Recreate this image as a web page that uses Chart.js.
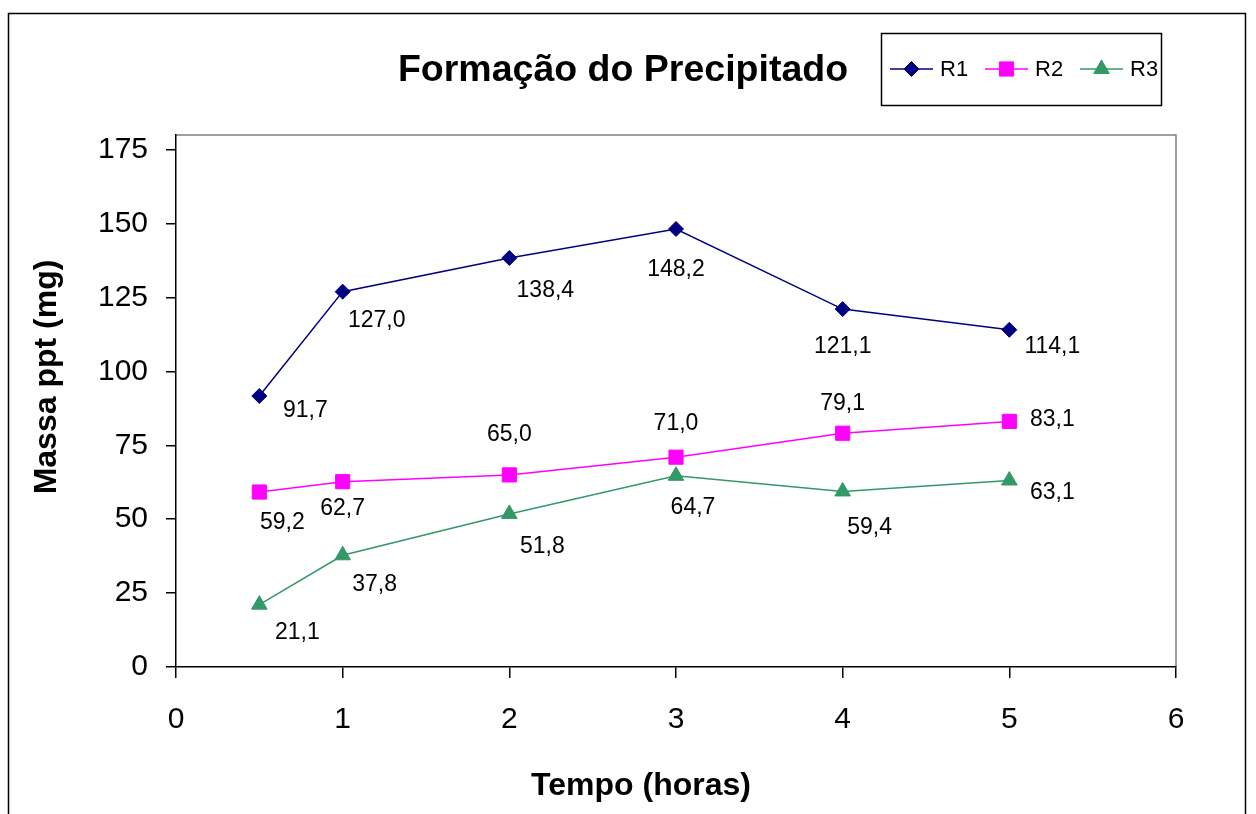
<!DOCTYPE html>
<html>
<head>
<meta charset="utf-8">
<title>Formação do Precipitado</title>
<script src="https://cdn.jsdelivr.net/npm/chart.js@4/dist/chart.umd.min.js"></script>
<style>
  html, body { margin: 0; padding: 0; background: #fff; }
  #wrap { width: 1256px; height: 814px; position: relative; }
</style>
</head>
<body>
<div id="wrap"><canvas id="c" width="1256" height="814"></canvas></div>
<script>
// Sampling times (hours) and precipitate mass (mg) for each reactor
const tempo = [0.5, 1, 2, 3, 4, 5];
const r1 = [91.7, 127.0, 138.4, 148.2, 121.1, 114.1];
const r2 = [59.2, 62.7, 65.0, 71.0, 79.1, 83.1];
const r3 = [21.1, 37.8, 51.8, 64.7, 59.4, 63.1];
const seriesNames = ['R1', 'R2', 'R3'];
const yTickValues = [0, 25, 50, 75, 100, 125, 150, 175];
const xTickValues = [0, 1, 2, 3, 4, 5, 6];

// Where each value label sits relative to its marker (px)
const labelShift = [
  [[46, 15], [34, 29], [36, 33], [0, 41], [0, 38], [43, 17]],
  [[23, 31], [0, 27], [0, -40], [0, -33], [0, -30], [43, -2]],
  [[38, 28], [32, 29], [33, 33], [17, 32], [27, 36], [43, 12]]
];

const FONT = '"Liberation Sans", Arial, Helvetica, sans-serif';
const colors = ['#000080', '#FF00FF', '#339966'];
const styles = ['rectRot', 'rect', 'triangle'];
const radii = [7.5, 10, 9];

const toPoints = arr => arr.map((v, i) => ({ x: tempo[i], y: v }));
const fmt = v => v.toFixed(1).replace('.', ',');

const datasets = [r1, r2, r3].map((arr, k) => ({
  label: seriesNames[k],
  data: toPoints(arr),
  borderColor: colors[k],
  backgroundColor: colors[k],
  borderWidth: 1.5,
  pointStyle: styles[k],
  pointRadius: radii[k],
  pointHoverRadius: radii[k],
  pointBorderWidth: 1,
  pointBackgroundColor: colors[k],
  pointBorderColor: colors[k],
  tension: 0,
  fill: false
}));

// Frame around the whole figure and gray edges of the plot area
const framePlugin = {
  id: 'frame',
  beforeDraw(chart) {
    const ctx = chart.ctx;
    const a = chart.chartArea;
    ctx.save();
    ctx.fillStyle = '#fff';
    ctx.fillRect(0, 0, chart.width, chart.height);
    ctx.strokeStyle = '#000';
    ctx.lineWidth = 1.5;
    ctx.strokeRect(8.5, 13.5, 1237, 900);
    ctx.strokeStyle = '#808080';
    ctx.lineWidth = 1.5;
    ctx.beginPath();
    ctx.moveTo(a.left, a.top);
    ctx.lineTo(a.right, a.top);
    ctx.lineTo(a.right, a.bottom);
    ctx.stroke();
    ctx.restore();
  }
};

// Title, axis titles, legend box and value labels
const decorPlugin = {
  id: 'decor',
  afterDatasetsDraw(chart) {
    const ctx = chart.ctx;
    ctx.save();
    // value labels
    ctx.fillStyle = '#000';
    ctx.font = '23px ' + FONT;
    ctx.textAlign = 'center';
    ctx.textBaseline = 'middle';
    chart.data.datasets.forEach((ds, k) => {
      const meta = chart.getDatasetMeta(k);
      meta.data.forEach((pt, i) => {
        const [dx, dy] = labelShift[k][i];
        ctx.fillText(fmt(ds.data[i].y), pt.x + dx, pt.y + dy);
      });
    });

    // chart title
    ctx.font = 'bold 37.5px ' + FONT;
    ctx.fillText('Formação do Precipitado', 623, 71);

    // axis titles
    ctx.font = 'bold 32px ' + FONT;
    ctx.fillText('Tempo (horas)', 641, 786);
    ctx.save();
    ctx.translate(47, 377);
    ctx.rotate(-Math.PI / 2);
    ctx.fillText('Massa ppt (mg)', 0, 0);
    ctx.restore();

    // legend
    ctx.strokeStyle = '#000';
    ctx.lineWidth = 1.5;
    ctx.strokeRect(881.5, 33.5, 280, 72);
    const ly = 69;
    const starts = [890, 985, 1080];
    ctx.font = '22px ' + FONT;
    ctx.textAlign = 'left';
    starts.forEach((x0, k) => {
      ctx.strokeStyle = colors[k];
      ctx.lineWidth = 1.5;
      ctx.beginPath();
      ctx.moveTo(x0, ly);
      ctx.lineTo(x0 + 43, ly);
      ctx.stroke();
      ctx.fillStyle = colors[k];
      ctx.lineWidth = 1;
      Chart.helpers.drawPoint(ctx, { pointStyle: styles[k], radius: radii[k], rotation: 0, borderWidth: 1 }, x0 + 21.5, ly);
      ctx.fillStyle = '#000';
      ctx.fillText(seriesNames[k], x0 + 50, ly + 1);
    });
    ctx.restore();
  }
};

new Chart(document.getElementById('c'), {
  type: 'line',
  data: { datasets },
  plugins: [framePlugin, decorPlugin],
  options: {
    responsive: false,
    animation: false,
    events: [],
    layout: { padding: { left: 8, right: 80, top: 135, bottom: 0 } },
    plugins: { legend: { display: false }, title: { display: false }, tooltip: { enabled: false } },
    scales: {
      x: {
        type: 'linear',
        min: 0, max: 6,
        afterBuildTicks: s => { s.ticks = xTickValues.map(v => ({ value: v })); },
        afterFit: s => { s.height = 147; },
        grid: { display: true, drawOnChartArea: false, drawTicks: true, tickLength: 11, color: '#000', lineWidth: 1.5 },
        border: { display: true, color: '#000', width: 1.5 },
        ticks: { color: '#000', font: { family: FONT, size: 30 }, padding: 24, maxRotation: 0 }
      },
      y: {
        type: 'linear',
        min: 0, max: 180,
        afterBuildTicks: s => { s.ticks = yTickValues.map(v => ({ value: v })); },
        afterFit: s => { s.width = 168; },
        grid: { display: true, drawOnChartArea: false, drawTicks: true, tickLength: 10, color: '#000', lineWidth: 1.5 },
        border: { display: true, color: '#000', width: 1.5 },
        ticks: { color: '#000', font: { family: FONT, size: 30 }, padding: 18 }
      }
    }
  }
});
</script>
</body>
</html>
